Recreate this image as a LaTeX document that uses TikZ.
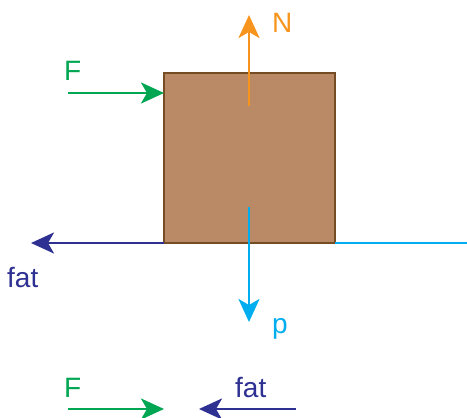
\documentclass[tikz,border=0pt]{standalone}
\usepackage{fontspec}
\setmainfont{Liberation Sans}
\usetikzlibrary{arrows.meta}
\definecolor{colF}{HTML}{00A651}
\definecolor{colN}{HTML}{F7941D}
\definecolor{colFat}{HTML}{2E3192}
\definecolor{colP}{HTML}{00AEEF}
\definecolor{boxfill}{HTML}{BA8A66}
\definecolor{boxline}{HTML}{754C24}
\begin{document}
\begin{tikzpicture}[x=1pt,y=-1pt,
    force/.style={line width=2.8pt,-{Stealth[length=23pt,width=21pt,inset=6pt]}},
    lbl/.style={anchor=base west,inner sep=0pt,font=\fontsize{28}{30}\selectfont}]
    \useasboundingbox (0,0) rectangle (467,418);

    % bloco
    \node[draw=boxline,fill=boxfill,line width=2.8pt,minimum width=171pt,
          minimum height=170pt,inner sep=0pt,outer sep=0pt] (block) at (249.5,158) {};

    % normal
    \coordinate (nTail) at (249,106);
    \coordinate (nTip) at (249,15);
    \draw[force,colN] (nTail) -- (nTip);
    \node[lbl,colN] (labelN) at (272,32) {N};

    % forca aplicada
    \coordinate (fTail) at (68,93);
    \draw[force,colF] (fTail) -- (fTail -| block.west);
    \node[lbl,colF] (labelF) at (64,80) {F};

    % atrito e chao
    \coordinate (fatTip) at (31,243);
    \coordinate (groundEnd) at (467,243);
    \draw[force,colFat] (block.south west) -- (fatTip);
    \draw[colP,line width=2.8pt] (block.south east) -- (groundEnd);
    \node[lbl,colFat] (labelFat) at (7,287) {fat};

    % peso
    \coordinate (pTail) at (249,207);
    \coordinate (pTip) at (249,322);
    \draw[force,colP] (pTail) -- (pTip);
    \node[lbl,colP] (labelP) at (272,333) {p};

    % resultante
    \coordinate (rfTail) at (68,409);
    \coordinate (rfTip) at (164,409);
    \coordinate (rfatTail) at (296,409);
    \coordinate (rfatTip) at (199,409);
    \draw[force,colF] (rfTail) -- (rfTip);
    \draw[force,colFat] (rfatTail) -- (rfatTip);
    \node[lbl,colF] (labelF2) at (64,397) {F};
    \node[lbl,colFat] (labelFat2) at (235,397) {fat};
\end{tikzpicture}
\end{document}
